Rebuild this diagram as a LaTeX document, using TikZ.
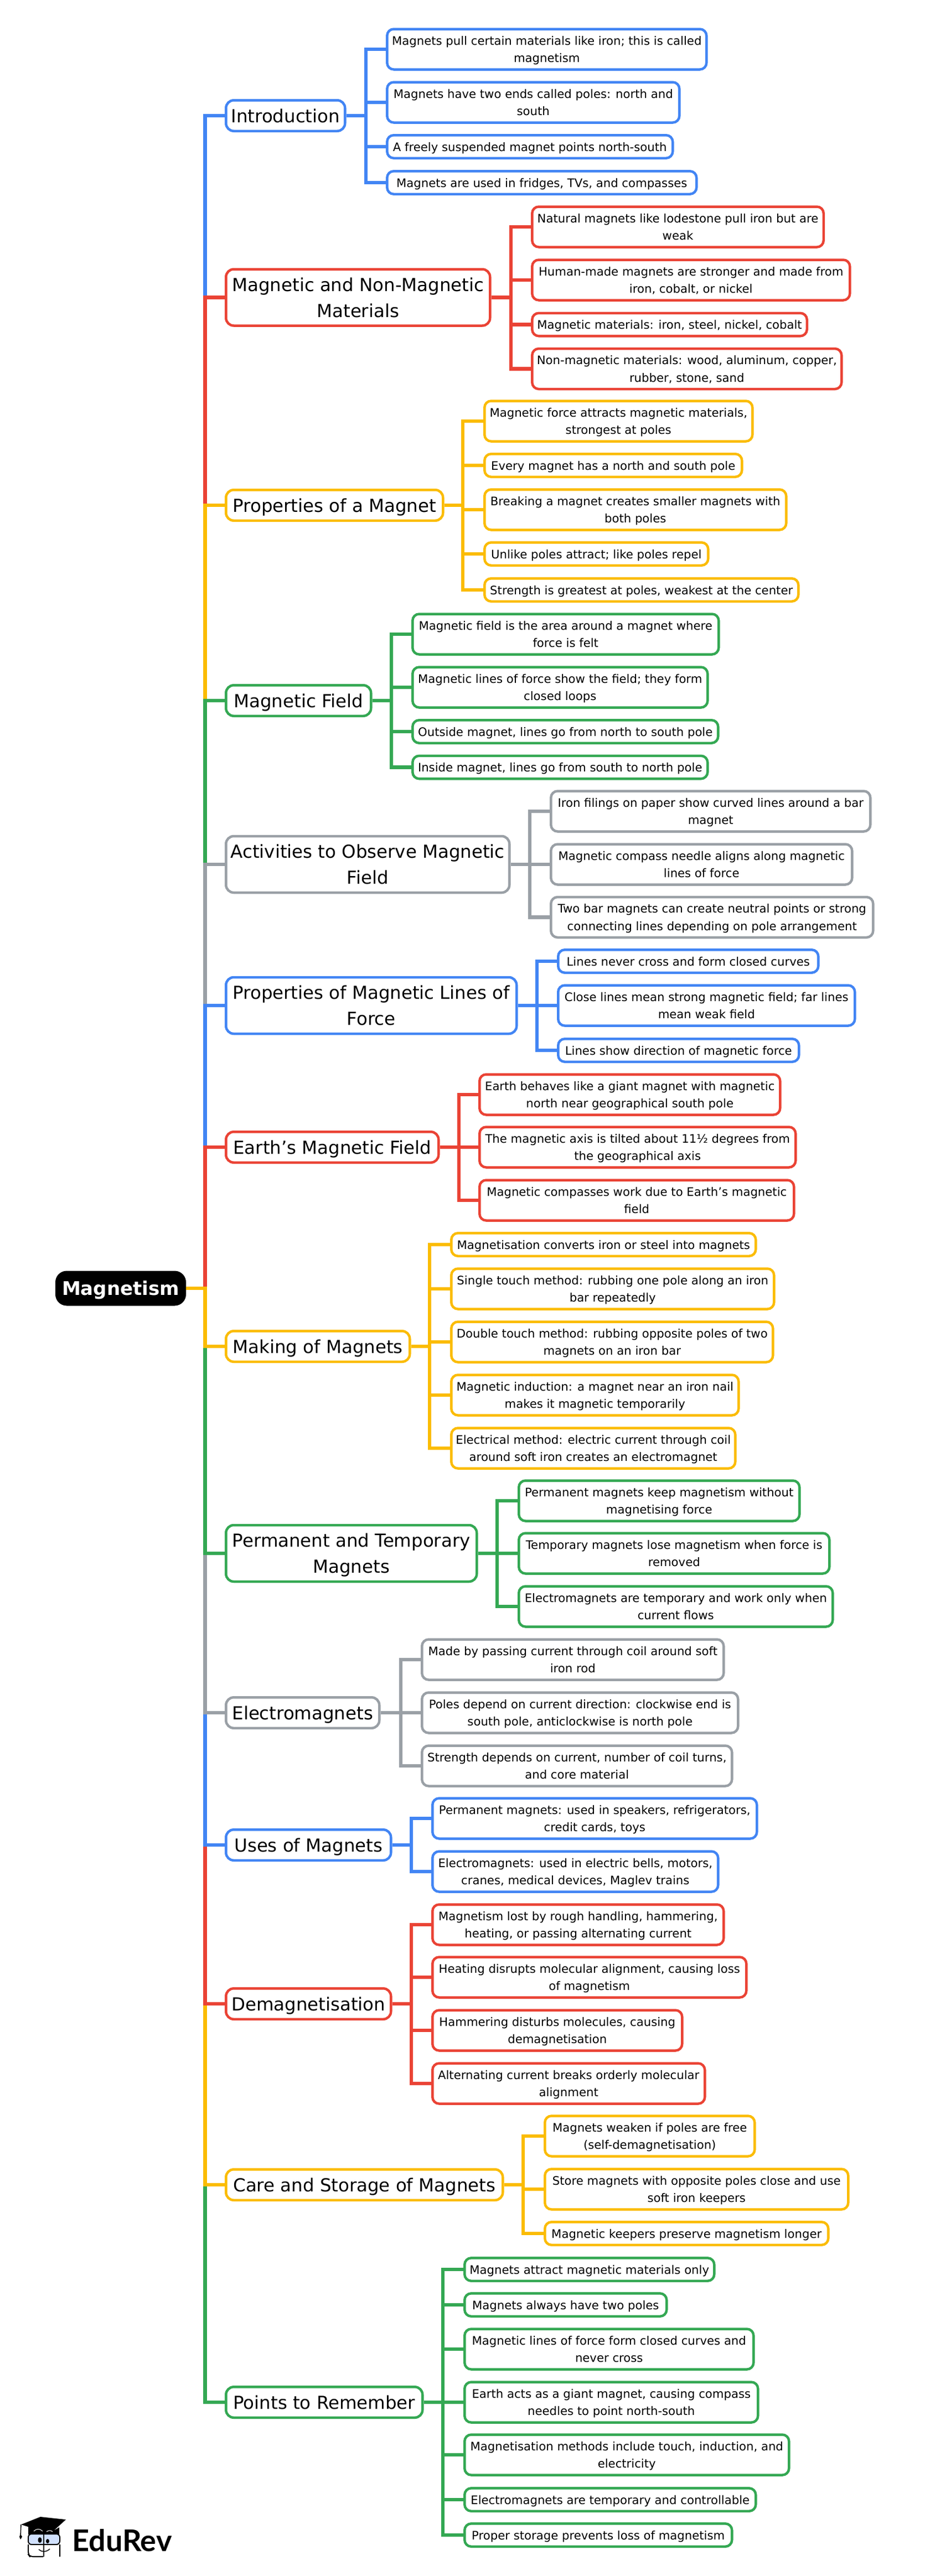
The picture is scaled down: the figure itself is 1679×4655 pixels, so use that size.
\documentclass[tikz,border=0pt]{standalone}
\usepackage{fontspec}
\setmainfont{DejaVu Sans}
\newfontfamily\logofont{Lato}
\definecolor{cblue}{HTML}{4285F4}
\definecolor{cred}{HTML}{EA4335}
\definecolor{cyellow}{HTML}{FBBC04}
\definecolor{cgreen}{HTML}{34A853}
\definecolor{cgrey}{HTML}{9AA0A6}

\begin{document}
\begin{tikzpicture}
      [x = 1pt, y = -1pt,
      link/.style= {
         draw = #1,
         line width = 6.3pt,
         line join = miter
      },
      topic/.style= {
         draw = black,
         fill = black,
         text = white,
         rounded corners = 20pt,
         line width = 1pt,
         inner sep = 0pt,
         text depth = 0pt,
         minimum width = 235pt,
         minimum height = 62pt,
         font = \fontsize{34}{40}\selectfont\bfseries
      },
      branch/.style= {
         draw = #1,
         fill = white,
         rounded corners = 14pt,
         line width = 4.5pt,
         anchor = west,
         align = center,
         inner sep = 0pt,
         text depth = 0pt,
         minimum height = 55.5pt,
         font = \fontsize{32.4}{47}\selectfont
      },
      leaf/.style= {
         draw = #1,
         fill = white,
         rounded corners = 12pt,
         line width = 4.5pt,
         anchor = west,
         align = center,
         inner sep = 0pt,
         text depth = 0pt,
         minimum height = 41.5pt,
         font = \fontsize{21.2}{31.5}\selectfont
      },
      tallbranch/.style= {minimum height = 102pt},
      tallleaf/.style= {minimum height = 73pt}]

      \useasboundingbox (0, 0) rectangle (1679, 4655);

      \node[topic] (root) at (218, 2328) {Magnetism};
      \coordinate (rootT) at (370.5, 2328);

      \node[branch = cblue, minimum width = 215pt] (intro) at (406, 209) {Introduction};
      \node[leaf = cblue, tallleaf, minimum width = 577pt] (introA) at (697, 89) {Magnets pull certain materials like iron; this is called\\magnetism};
      \node[leaf = cblue, tallleaf, minimum width = 528pt] (introB) at (697, 185) {Magnets have two ends called poles: north and\\south};
      \node[leaf = cblue, minimum width = 516pt] (introC) at (697, 265) {A freely suspended magnet points north-south};
      \node[leaf = cblue, minimum width = 559pt] (introD) at (697, 330) {Magnets are used in fridges, TVs, and compasses};
      \coordinate (introT) at (661, 209);

      \node[branch = cred, tallbranch, minimum width = 477pt] (nonmag) at (406, 537.5) {Magnetic and Non-Magnetic\\Materials};
      \node[leaf = cred, tallleaf, minimum width = 526.5pt] (nonmagA) at (959, 410) {Natural magnets like lodestone pull iron but are\\weak};
      \node[leaf = cred, tallleaf, minimum width = 574pt] (nonmagB) at (959, 506) {Human-made magnets are stronger and made from\\iron, cobalt, or nickel};
      \node[leaf = cred, minimum width = 496.5pt] (nonmagC) at (959, 586.5) {Magnetic materials: iron, steel, nickel, cobalt};
      \node[leaf = cred, tallleaf, minimum width = 559pt] (nonmagD) at (959, 666.5) {Non-magnetic materials: wood, aluminum, copper,\\rubber, stone, sand};
      \coordinate (nonmagT) at (923, 537.5);

      \node[branch = cyellow, minimum width = 392pt] (props) at (406, 913) {Properties of a Magnet};
      \node[leaf = cyellow, tallleaf, minimum width = 484pt] (propsA) at (873, 761) {Magnetic force attracts magnetic materials,\\strongest at poles};
      \node[leaf = cyellow, minimum width = 465pt] (propsB) at (873, 841) {Every magnet has a north and south pole};
      \node[leaf = cyellow, tallleaf, minimum width = 545pt] (propsC) at (873, 921) {Breaking a magnet creates smaller magnets with\\both poles};
      \node[leaf = cyellow, minimum width = 404pt] (propsD) at (873, 1001) {Unlike poles attract; like poles repel};
      \node[leaf = cyellow, minimum width = 567pt] (propsE) at (873, 1066) {Strength is greatest at poles, weakest at the center};
      \coordinate (propsT) at (836, 913);

      \node[branch = cgreen, minimum width = 262pt] (field) at (406, 1266) {Magnetic Field};
      \node[leaf = cgreen, tallleaf, minimum width = 553pt] (fieldA) at (743, 1146) {Magnetic field is the area around a magnet where\\force is felt};
      \node[leaf = cgreen, tallleaf, minimum width = 533pt] (fieldB) at (743, 1242) {Magnetic lines of force show the field; they form\\closed loops};
      \node[leaf = cgreen, minimum width = 552pt] (fieldC) at (743, 1322) {Outside magnet, lines go from north to south pole};
      \node[leaf = cgreen, minimum width = 533pt] (fieldD) at (743, 1386.5) {Inside magnet, lines go from south to north pole};
      \coordinate (fieldT) at (707, 1266);

      \node[branch = cgrey, tallbranch, minimum width = 512pt] (observe) at (406, 1562) {Activities to Observe Magnetic\\Field};
      \node[leaf = cgrey, tallleaf, minimum width = 577pt] (observeA) at (993, 1466) {Iron filings on paper show curved lines around a bar\\magnet};
      \node[leaf = cgrey, tallleaf, minimum width = 544pt] (observeB) at (993, 1562) {Magnetic compass needle aligns along magnetic\\lines of force};
      \node[leaf = cgrey, tallleaf, minimum width = 582pt] (observeC) at (993, 1657.5) {Two bar magnets can create neutral points or strong\\connecting lines depending on pole arrangement};
      \coordinate (observeT) at (957, 1562);

      \node[branch = cblue, tallbranch, minimum width = 525pt] (lines) at (406, 1817) {Properties of Magnetic Lines of\\Force};
      \node[leaf = cblue, minimum width = 470pt] (linesA) at (1006, 1737) {Lines never cross and form closed curves};
      \node[leaf = cblue, tallleaf, minimum width = 536pt] (linesB) at (1006, 1817) {Close lines mean strong magnetic field; far lines\\mean weak field};
      \node[leaf = cblue, minimum width = 435pt] (linesC) at (1006, 1898) {Lines show direction of magnetic force};
      \coordinate (linesT) at (970, 1817);

      \node[branch = cred, minimum width = 384pt] (earth) at (406, 2073) {Earth’s Magnetic Field};
      \node[leaf = cred, tallleaf, minimum width = 543pt] (earthA) at (864, 1978) {Earth behaves like a giant magnet with magnetic\\north near geographical south pole};
      \node[leaf = cred, tallleaf, minimum width = 571pt] (earthB) at (864, 2073) {The magnetic axis is tilted about 11½ degrees from\\the geographical axis};
      \node[leaf = cred, tallleaf, minimum width = 568pt] (earthC) at (864, 2169) {Magnetic compasses work due to Earth’s magnetic\\field};
      \coordinate (earthT) at (829, 2073);

      \node[branch = cyellow, minimum width = 332pt] (making) at (406, 2433) {Making of Magnets};
      \node[leaf = cyellow, minimum width = 550pt] (makingA) at (813, 2249) {Magnetisation converts iron or steel into magnets};
      \node[leaf = cyellow, tallleaf, minimum width = 583pt] (makingB) at (813, 2329) {Single touch method: rubbing one pole along an iron\\bar repeatedly};
      \node[leaf = cyellow, tallleaf, minimum width = 581pt] (makingC) at (813, 2425) {Double touch method: rubbing opposite poles of two\\magnets on an iron bar};
      \node[leaf = cyellow, tallleaf, minimum width = 519pt] (makingD) at (813, 2521) {Magnetic induction: a magnet near an iron nail\\makes it magnetic temporarily};
      \node[leaf = cyellow, tallleaf, minimum width = 513pt] (makingE) at (813, 2617) {Electrical method: electric current through coil\\around soft iron creates an electromagnet};
      \coordinate (makingT) at (776, 2433);

      \node[branch = cgreen, tallbranch, minimum width = 453pt] (perm) at (406, 2807) {Permanent and Temporary\\Magnets};
      \node[leaf = cgreen, tallleaf, minimum width = 507pt] (permA) at (935, 2712) {Permanent magnets keep magnetism without\\magnetising force};
      \node[leaf = cgreen, tallleaf, minimum width = 561pt] (permB) at (935, 2807) {Temporary magnets lose magnetism when force is\\removed};
      \node[leaf = cgreen, tallleaf, minimum width = 567pt] (permC) at (935, 2903) {Electromagnets are temporary and work only when\\current flows};
      \coordinate (permT) at (898, 2807);

      \node[branch = cgrey, minimum width = 277pt] (electro) at (406, 3095) {Electromagnets};
      \node[leaf = cgrey, tallleaf, minimum width = 545pt] (electroA) at (760, 2999) {Made by passing current through coil around soft\\iron rod};
      \node[leaf = cgrey, tallleaf, minimum width = 571pt] (electroB) at (760, 3095) {Poles depend on current direction: clockwise end is\\south pole, anticlockwise is north pole};
      \node[leaf = cgrey, tallleaf, minimum width = 560pt] (electroC) at (760, 3191) {Strength depends on current, number of coil turns,\\and core material};
      \coordinate (electroT) at (724, 3095);

      \node[branch = cblue, minimum width = 298pt] (uses) at (406, 3334) {Uses of Magnets};
      \node[leaf = cblue, tallleaf, minimum width = 586pt] (usesA) at (779, 3286) {Permanent magnets: used in speakers, refrigerators,\\credit cards, toys};
      \node[leaf = cblue, tallleaf, minimum width = 516pt] (usesB) at (779, 3382) {Electromagnets: used in electric bells, motors,\\cranes, medical devices, Maglev trains};
      \coordinate (usesT) at (743, 3334);

      \node[branch = cred, minimum width = 298pt] (demag) at (406, 3621) {Demagnetisation};
      \node[leaf = cred, tallleaf, minimum width = 526pt] (demagA) at (779, 3478) {Magnetism lost by rough handling, hammering,\\heating, or passing alternating current};
      \node[leaf = cred, tallleaf, minimum width = 567pt] (demagB) at (779, 3573) {Heating disrupts molecular alignment, causing loss\\of magnetism};
      \node[leaf = cred, tallleaf, minimum width = 451pt] (demagC) at (779, 3669) {Hammering disturbs molecules, causing\\demagnetisation};
      \node[leaf = cred, tallleaf, minimum width = 492pt] (demagD) at (779, 3765) {Alternating current breaks orderly molecular\\alignment};
      \coordinate (demagT) at (743, 3621);

      \node[branch = cyellow, minimum width = 500pt] (care) at (406, 3948) {Care and Storage of Magnets};
      \node[leaf = cyellow, tallleaf, minimum width = 379pt] (careA) at (982, 3860) {Magnets weaken if poles are free\\(self-demagnetisation)};
      \node[leaf = cyellow, tallleaf, minimum width = 548pt] (careB) at (982, 3956) {Store magnets with opposite poles close and use\\soft iron keepers};
      \node[leaf = cyellow, minimum width = 512pt] (careC) at (982, 4036) {Magnetic keepers preserve magnetism longer};
      \coordinate (careT) at (945, 3948);

      \node[branch = cgreen, minimum width = 355pt] (points) at (406, 4341) {Points to Remember};
      \node[leaf = cgreen, minimum width = 451pt] (pointsA) at (837, 4101) {Magnets attract magnetic materials only};
      \node[leaf = cgreen, minimum width = 365pt] (pointsB) at (837, 4165) {Magnets always have two poles};
      \node[leaf = cgreen, tallleaf, minimum width = 522pt] (pointsC) at (837, 4245) {Magnetic lines of force form closed curves and\\never cross};
      \node[leaf = cgreen, tallleaf, minimum width = 530pt] (pointsD) at (837, 4341) {Earth acts as a giant magnet, causing compass\\needles to point north-south};
      \node[leaf = cgreen, tallleaf, minimum width = 586pt] (pointsE) at (837, 4436) {Magnetisation methods include touch, induction, and\\electricity};
      \node[leaf = cgreen, minimum width = 526pt] (pointsF) at (837, 4517) {Electromagnets are temporary and controllable};
      \node[leaf = cgreen, minimum width = 483pt] (pointsG) at (837, 4581) {Proper storage prevents loss of magnetism};
      \coordinate (pointsT) at (800, 4341);

      \draw[link = cblue] (root.east) -- (rootT) |- (intro.west);
      \draw[link = cred] (root.east) -- (rootT) |- (nonmag.west);
      \draw[link = cyellow] (root.east) -- (rootT) |- (props.west);
      \draw[link = cgreen] (root.east) -- (rootT) |- (field.west);
      \draw[link = cgrey] (root.east) -- (rootT) |- (observe.west);
      \draw[link = cblue] (root.east) -- (rootT) |- (lines.west);
      \draw[link = cred] (root.east) -- (rootT) |- (earth.west);
      \draw[link = cgreen] (root.east) -- (rootT) |- (points.west);
      \draw[link = cyellow] (root.east) -- (rootT) |- (care.west);
      \draw[link = cred] (root.east) -- (rootT) |- (demag.west);
      \draw[link = cblue] (root.east) -- (rootT) |- (uses.west);
      \draw[link = cgrey] (root.east) -- (rootT) |- (electro.west);
      \draw[link = cgreen] (root.east) -- (rootT) |- (perm.west);
      \draw[link = cyellow] (root.east) -- (rootT) |- (making.west);

      \draw[link = cblue] (intro.east) -- (introT) |- (introA.west) (introT) |- (introB.west) (introT) |- (introC.west) (introT) |- (introD.west);
      \draw[link = cred] (nonmag.east) -- (nonmagT) |- (nonmagA.west) (nonmagT) |- (nonmagB.west) (nonmagT) |- (nonmagC.west) (nonmagT) |- (nonmagD.west);
      \draw[link = cyellow] (props.east) -- (propsT) |- (propsA.west) (propsT) |- (propsB.west) (propsT) |- (propsC.west) (propsT) |- (propsD.west) (propsT) |- (propsE.west);
      \draw[link = cgreen] (field.east) -- (fieldT) |- (fieldA.west) (fieldT) |- (fieldB.west) (fieldT) |- (fieldC.west) (fieldT) |- (fieldD.west);
      \draw[link = cgrey] (observe.east) -- (observeT) |- (observeA.west) (observeT) -- (observeB.west) (observeT) |- (observeC.west);
      \draw[link = cblue] (lines.east) -- (linesT) |- (linesA.west) (linesT) -- (linesB.west) (linesT) |- (linesC.west);
      \draw[link = cred] (earth.east) -- (earthT) |- (earthA.west) (earthT) -- (earthB.west) (earthT) |- (earthC.west);
      \draw[link = cyellow] (making.east) -- (makingT) |- (makingA.west) (makingT) |- (makingB.west) (makingT) |- (makingC.west) (makingT) |- (makingD.west) (makingT) |- (makingE.west);
      \draw[link = cgreen] (perm.east) -- (permT) |- (permA.west) (permT) -- (permB.west) (permT) |- (permC.west);
      \draw[link = cgrey] (electro.east) -- (electroT) |- (electroA.west) (electroT) -- (electroB.west) (electroT) |- (electroC.west);
      \draw[link = cblue] (uses.east) -- (usesT) |- (usesA.west) (usesT) |- (usesB.west);
      \draw[link = cred] (demag.east) -- (demagT) |- (demagA.west) (demagT) |- (demagB.west) (demagT) |- (demagC.west) (demagT) |- (demagD.west);
      \draw[link = cyellow] (care.east) -- (careT) |- (careA.west) (careT) |- (careB.west) (careT) |- (careC.west);
      \draw[link = cgreen] (points.east) -- (pointsT) |- (pointsA.west) (pointsT) |- (pointsB.west) (pointsT) |- (pointsC.west) (pointsT) -- (pointsD.west) (pointsT) |- (pointsE.west) (pointsT) |- (pointsF.west) (pointsT) |- (pointsG.west);

      \fill[black] (38, 4562) -- (73, 4548) -- (119, 4553) -- (97, 4573) -- (107, 4567) -- (107, 4580) -- (51, 4580) -- (51, 4566) -- cycle;
      \draw[black, line width = 1.5pt] (38, 4562) -- (37, 4582);
      \fill[black] (37, 4579) -- (40, 4584) -- (37, 4589) -- (35, 4584) -- cycle;
      \draw[white, line width = 1pt] (61, 4574) .. controls (66, 4569) and (72, 4569) .. (77, 4574);
      \draw[white, line width = 1pt] (84, 4575) .. controls (88, 4572) and (92, 4572) .. (95, 4575);
      \draw[black, line width = 2pt, fill = cblue!25, rounded corners = 6pt] (51, 4579) rectangle (108, 4598);
      \draw[black, line width = 2pt, rounded corners = 6pt] (78, 4620) -- (54, 4620) -- (51, 4616) -- (51, 4598) (108, 4620) -- (108, 4598);
      \draw[black, line width = 2pt] (79, 4578) -- (79, 4620);
      \fill[black] (72, 4590) ellipse (3.5 and 5);
      \fill[black] (86, 4592) ellipse (3 and 4);
      \draw[black, line width = 1.5pt] (70, 4607) .. controls (75, 4612) and (84, 4612) .. (90, 4606);

      \node[anchor = west, inner sep = 0pt, font = \fontsize{54}{60}\selectfont\logofont\bfseries] (logo) at (130, 4591) {EduRev};

   \end{tikzpicture}
\end{document}
